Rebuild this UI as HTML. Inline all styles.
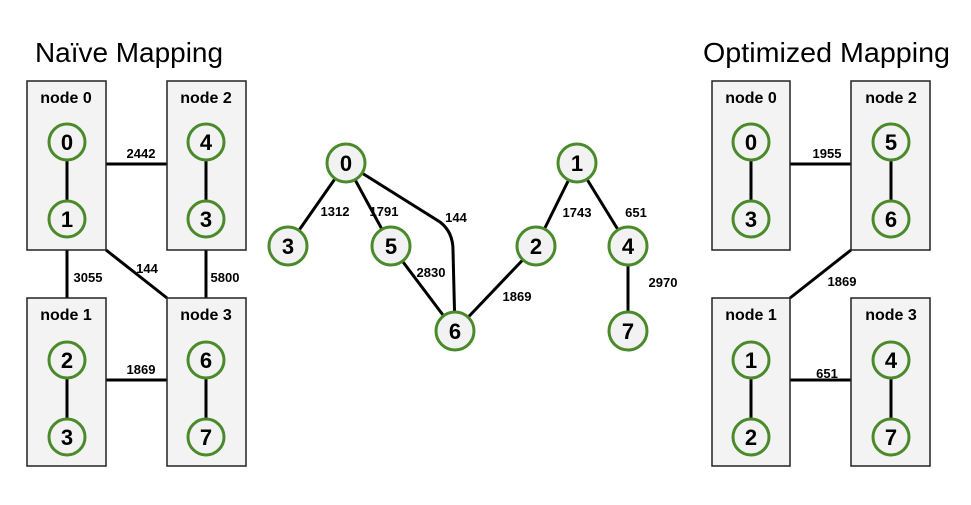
<!DOCTYPE html>
<html><head><meta charset="utf-8"><style>body{margin:0;background:#fff}svg{display:block}</style></head><body>
<svg width="971" height="505" viewBox="0 0 971 505" xmlns="http://www.w3.org/2000/svg" font-family="Liberation Sans, Arial, sans-serif">
<g font-size="28" fill="#000"><text x="35" y="62" textLength="188" lengthAdjust="spacingAndGlyphs">Naïve Mapping</text><text x="703" y="62" textLength="247" lengthAdjust="spacingAndGlyphs">Optimized Mapping</text></g>
<g stroke="#000" stroke-width="3" fill="none">
<line x1="106" y1="164" x2="167" y2="164"/><line x1="67" y1="250" x2="67" y2="298"/><line x1="106" y1="250" x2="167" y2="298"/><line x1="206" y1="250" x2="206" y2="298"/><line x1="106" y1="380" x2="167" y2="380"/>
<line x1="790" y1="164" x2="851" y2="164"/><line x1="851" y1="250" x2="790" y2="298"/><line x1="790" y1="380" x2="851" y2="380"/>
</g>
<g fill="#f3f3f3" stroke="#222" stroke-width="1.5">
<rect x="27" y="81" width="79" height="169"/><rect x="167" y="81" width="79" height="169"/><rect x="27" y="298" width="79" height="168"/><rect x="167" y="298" width="79" height="168"/>
<rect x="712" y="81" width="78" height="169"/><rect x="851" y="81" width="79" height="169"/><rect x="712" y="298" width="78" height="168"/><rect x="851" y="298" width="79" height="168"/>
</g>
<g font-size="16" font-weight="bold" text-anchor="middle">
<text x="66" y="103">node 0</text><text x="206" y="103">node 2</text><text x="66" y="320">node 1</text><text x="206" y="320">node 3</text>
<text x="751" y="103">node 0</text><text x="891" y="103">node 2</text><text x="751" y="320">node 1</text><text x="891" y="320">node 3</text>
</g>
<g stroke="#000" stroke-width="3" fill="none">
<line x1="67" y1="142" x2="67" y2="219"/><line x1="206" y1="142" x2="206" y2="219"/><line x1="67" y1="360" x2="67" y2="437"/><line x1="206" y1="360" x2="206" y2="437"/>
<line x1="751" y1="142" x2="751" y2="219"/><line x1="891" y1="142" x2="891" y2="219"/><line x1="751" y1="360" x2="751" y2="437"/><line x1="891" y1="360" x2="891" y2="437"/>
<line x1="346" y1="163" x2="288" y2="246"/><line x1="346" y1="163" x2="391" y2="246"/><path d="M346 163 L440 222 Q453 232 453 250 L455 331"/><line x1="391" y1="246" x2="455" y2="331"/><line x1="455" y1="331" x2="536" y2="246"/><line x1="536" y1="246" x2="577" y2="163"/><line x1="577" y1="163" x2="628" y2="246"/><line x1="628" y1="246" x2="628" y2="331"/>
</g>
<g font-size="13" font-weight="bold" text-anchor="middle">
<text x="141" y="158">2442</text><text x="88" y="282">3055</text><text x="147" y="273">144</text><text x="225" y="282">5800</text><text x="141" y="374">1869</text>
<text x="827" y="158">1955</text><text x="842" y="286">1869</text><text x="827" y="378">651</text>
<text x="335" y="216">1312</text><text x="384" y="216">1791</text><text x="456" y="222">144</text><text x="431" y="277">2830</text><text x="517" y="301">1869</text><text x="577" y="217">1743</text><text x="636" y="217">651</text><text x="663" y="287">2970</text>
</g>
<g fill="#f2f2f2" stroke="#4a8a2a" stroke-width="3">
<circle cx="67" cy="142" r="18"/><circle cx="67" cy="219" r="18"/><circle cx="206" cy="142" r="18"/><circle cx="206" cy="219" r="18"/><circle cx="67" cy="360" r="18"/><circle cx="67" cy="437" r="18"/><circle cx="206" cy="360" r="18"/><circle cx="206" cy="437" r="18"/>
<circle cx="751" cy="142" r="18"/><circle cx="751" cy="219" r="18"/><circle cx="891" cy="142" r="18"/><circle cx="891" cy="219" r="18"/><circle cx="751" cy="360" r="18"/><circle cx="751" cy="437" r="18"/><circle cx="891" cy="360" r="18"/><circle cx="891" cy="437" r="18"/>
<circle cx="346" cy="163" r="19"/><circle cx="288" cy="246" r="19"/><circle cx="391" cy="246" r="19"/><circle cx="455" cy="331" r="19"/><circle cx="536" cy="246" r="19"/><circle cx="577" cy="163" r="19"/><circle cx="628" cy="246" r="19"/><circle cx="628" cy="331" r="19"/>
</g>
<g font-size="22" font-weight="bold" text-anchor="middle">
<text x="67" y="150">0</text><text x="67" y="227">1</text><text x="206" y="150">4</text><text x="206" y="227">3</text><text x="67" y="368">2</text><text x="67" y="445">3</text><text x="206" y="368">6</text><text x="206" y="445">7</text>
<text x="751" y="150">0</text><text x="751" y="227">3</text><text x="891" y="150">5</text><text x="891" y="227">6</text><text x="751" y="368">1</text><text x="751" y="445">2</text><text x="891" y="368">4</text><text x="891" y="445">7</text>
<text x="346" y="171">0</text><text x="288" y="254">3</text><text x="391" y="254">5</text><text x="455" y="339">6</text><text x="536" y="254">2</text><text x="577" y="171">1</text><text x="628" y="254">4</text><text x="628" y="339">7</text>
</g>
</svg>
</body></html>
